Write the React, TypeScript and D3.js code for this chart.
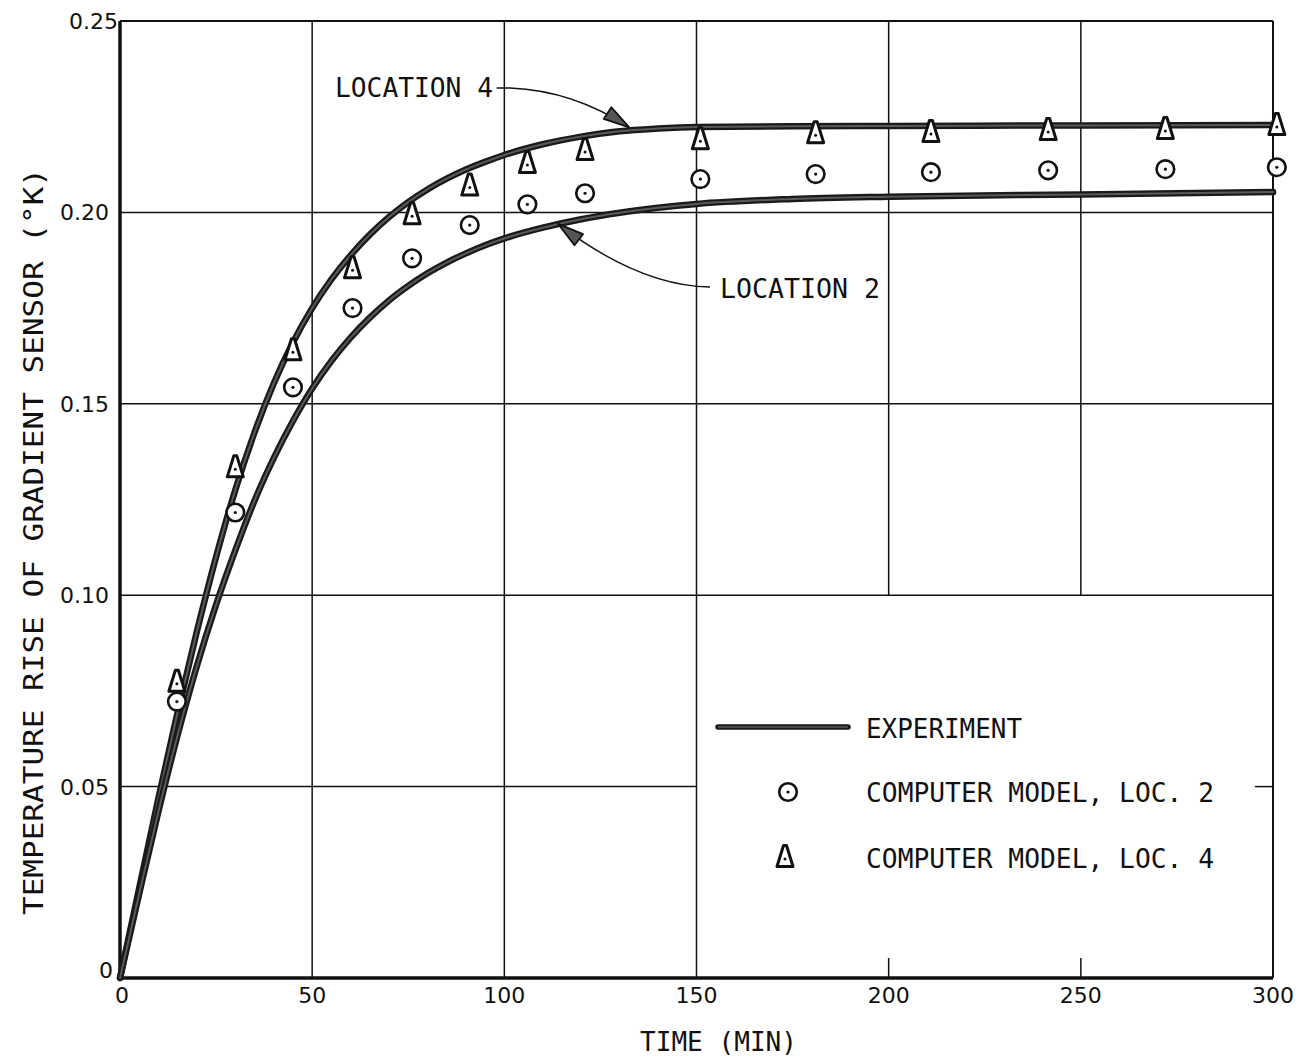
import React from "react";
import * as d3 from "d3";

// ---------- data ----------
const xTicks = [0, 50, 100, 150, 200, 250, 300];
const yTicks = [0, 0.05, 0.1, 0.15, 0.2, 0.25];
const yTickLabels = ["0", "0.05", "0.10", "0.15", "0.20", "0.25"];

// Experiment, location 4 (upper curve)
const expLoc4Time = [0, 5, 10, 15, 20, 25, 30, 35, 40, 45, 50, 55, 60, 65, 70, 75, 80, 85, 90, 95, 100, 110, 120, 130, 140, 150, 175, 200, 250, 300];
const expLoc4Value = [0, 0.0235, 0.047, 0.0695, 0.0905, 0.11, 0.1275, 0.1425, 0.1553, 0.166, 0.175, 0.1825, 0.1888, 0.1942, 0.1988, 0.2027, 0.206, 0.2088, 0.2112, 0.2132, 0.215, 0.2178, 0.2198, 0.2212, 0.2219, 0.2223, 0.2225, 0.2226, 0.2227, 0.2228];

// Experiment, location 2 (lower curve)
const expLoc2Time = [0, 5, 10, 15, 20, 25, 30, 35, 40, 45, 50, 55, 60, 65, 70, 75, 80, 85, 90, 95, 100, 110, 120, 130, 140, 150, 175, 200, 250, 300];
const expLoc2Value = [0, 0.022, 0.0435, 0.0635, 0.0815, 0.0975, 0.1117, 0.1247, 0.1358, 0.1455, 0.154, 0.1612, 0.1673, 0.1725, 0.177, 0.1808, 0.1841, 0.1869, 0.1893, 0.1914, 0.1932, 0.196, 0.1982, 0.1999, 0.2012, 0.2022, 0.2035, 0.2041, 0.2047, 0.2053];

// Computer model points
const modelTime = [14.8, 30, 45, 60.5, 76, 91, 106, 121, 151, 181, 211, 241.5, 272, 301];
const modelLoc2 = [0.0722, 0.1216, 0.1543, 0.175, 0.188, 0.1967, 0.2021, 0.205, 0.2087, 0.21, 0.2105, 0.211, 0.2113, 0.2118];
const modelLoc4 = [0.0774, 0.1334, 0.164, 0.1854, 0.1995, 0.207, 0.2129, 0.2163, 0.2191, 0.2207, 0.221, 0.2215, 0.2218, 0.2228];

const legendLabels = ["EXPERIMENT", "COMPUTER MODEL, LOC. 2", "COMPUTER MODEL, LOC. 4"];

// ---------- layout ----------
const W = 1309;
const H = 1059;
const x = d3.scaleLinear().domain([0, 300]).range([120, 1273]);
const y = d3.scaleLinear().domain([0, 0.25]).range([978, 21]);

const MONO = "'DejaVu Sans Mono', monospace";
const SANS = "'DejaVu Sans', sans-serif";

function lineFor(ts: number[], vs: number[]) {
  const pts: [number, number][] = ts.map((t, i) => [t, vs[i]]);
  return d3
    .line<[number, number]>()
    .x((d) => x(d[0]))
    .y((d) => y(d[1]))
    .curve(d3.curveMonotoneX)(pts) as string;
}

function arrowHead(tipX: number, tipY: number, fromX: number, fromY: number) {
  const ang = Math.atan2(tipY - fromY, tipX - fromX);
  const len = 26;
  const hw = 7;
  const bx = tipX - len * Math.cos(ang);
  const by = tipY - len * Math.sin(ang);
  const px = -Math.sin(ang);
  const py = Math.cos(ang);
  return `M${tipX},${tipY} L${bx + hw * px},${by + hw * py} L${bx - hw * px},${by - hw * py} Z`;
}

function Triangle({ cx, cy }: { cx: number; cy: number }) {
  return (
    <g transform={`translate(${cx},${cy})`}>
      <path d="M-1.5,-11.5 L1.5,-11.5 L8,9.5 L-8,9.5 Z" fill="white" stroke="#111" strokeWidth={3} strokeLinejoin="round" />
      <circle cx={0} cy={2} r={1.5} fill="#111" />
    </g>
  );
}

function Circ({ cx, cy }: { cx: number; cy: number }) {
  return (
    <g transform={`translate(${cx},${cy})`}>
      <circle r={8.8} fill="white" stroke="#111" strokeWidth={2.6} />
      <circle r={1.6} fill="#111" />
    </g>
  );
}

export default function App() {
  const loc4Path = lineFor(expLoc4Time, expLoc4Value);
  const loc2Path = lineFor(expLoc2Time, expLoc2Value);

  // annotation geometry (data space anchors)
  const a4Start = [x(98), y(0.2325)];
  const a4Knee = [x(101.5), y(0.2325)];
  const a4Ctrl = [x(118), y(0.2318)];
  const a4Tip = [x(132.5), y(0.2222)];

  const a2Start = [x(153.5), y(0.1805)];
  const a2Ctrl = [x(135), y(0.1808)];
  const a2Tip = [x(114), y(0.197)];

  const gridStroke = "#111";

  return (
    <svg width={W} height={H} style={{ position: "absolute", left: 0, top: 0, background: "white" }}>
      <rect x={0} y={0} width={W} height={H} fill="white" />

      {/* full vertical grid lines */}
      {[50, 100, 150].map((t) => (
        <line key={"vg" + t} x1={x(t)} x2={x(t)} y1={y(0.25)} y2={y(0)} stroke={gridStroke} strokeWidth={1.5} />
      ))}
      {/* partial vertical grid lines (stop at legend box) */}
      {[200, 250].map((t) => (
        <g key={"vp" + t}>
          <line x1={x(t)} x2={x(t)} y1={y(0.25)} y2={y(0.1)} stroke={gridStroke} strokeWidth={1.5} />
          <line x1={x(t)} x2={x(t)} y1={y(0) - 20} y2={y(0)} stroke={gridStroke} strokeWidth={1.5} />
        </g>
      ))}
      {/* full horizontal grid lines */}
      {[0.1, 0.15, 0.2].map((v) => (
        <line key={"hg" + v} x1={x(0)} x2={x(300)} y1={y(v)} y2={y(v)} stroke={gridStroke} strokeWidth={1.5} />
      ))}
      {/* partial horizontal 0.05 */}
      <line x1={x(0)} x2={x(150)} y1={y(0.05)} y2={y(0.05)} stroke={gridStroke} strokeWidth={1.5} />
      <line x1={x(300) - 18} x2={x(300)} y1={y(0.05)} y2={y(0.05)} stroke={gridStroke} strokeWidth={1.5} />

      {/* frame */}
      <line x1={x(0)} x2={x(300)} y1={y(0.25)} y2={y(0.25)} stroke="#111" strokeWidth={2} />
      <line x1={x(300)} x2={x(300)} y1={y(0.25)} y2={y(0)} stroke="#111" strokeWidth={2} />
      <line x1={x(0)} x2={x(300)} y1={y(0)} y2={y(0)} stroke="#111" strokeWidth={3.5} />
      <line x1={x(0)} x2={x(0)} y1={y(0.25)} y2={y(0)} stroke="#111" strokeWidth={3.5} />

      {/* experiment curves */}
      {[loc4Path, loc2Path].map((d, i) => (
        <g key={"c" + i}>
          <path d={d} fill="none" stroke="#1a1a1a" strokeWidth={6.5} strokeLinecap="round" />
          <path d={d} fill="none" stroke="#5a5a5a" strokeWidth={2} strokeLinecap="round" />
        </g>
      ))}

      {/* model markers */}
      {modelTime.map((t, i) => (
        <Circ key={"m2" + i} cx={x(t)} cy={y(modelLoc2[i])} />
      ))}
      {modelTime.map((t, i) => (
        <Triangle key={"m4" + i} cx={x(t)} cy={y(modelLoc4[i])} />
      ))}

      {/* annotations */}
      <path
        d={`M${a4Start[0]},${a4Start[1]} L${a4Knee[0]},${a4Knee[1]} Q${a4Ctrl[0]},${a4Ctrl[1]} ${a4Tip[0]},${a4Tip[1]}`}
        fill="none"
        stroke="#111"
        strokeWidth={1.4}
      />
      <path d={arrowHead(a4Tip[0], a4Tip[1], a4Ctrl[0], a4Ctrl[1])} fill="#555" stroke="#111" strokeWidth={1.8} strokeLinejoin="round" />
      <text x={335} y={97} fontFamily={MONO} fontSize={27} textLength={158} lengthAdjust="spacingAndGlyphs" fill="#111">
        LOCATION 4
      </text>

      <path
        d={`M${a2Start[0]},${a2Start[1]} Q${a2Ctrl[0]},${a2Ctrl[1]} ${a2Tip[0]},${a2Tip[1]}`}
        fill="none"
        stroke="#111"
        strokeWidth={1.4}
      />
      <path d={arrowHead(a2Tip[0], a2Tip[1], a2Ctrl[0], a2Ctrl[1])} fill="#555" stroke="#111" strokeWidth={1.8} strokeLinejoin="round" />
      <text x={720} y={298} fontFamily={MONO} fontSize={27} textLength={160} lengthAdjust="spacingAndGlyphs" fill="#111">
        LOCATION 2
      </text>

      {/* legend */}
      <g>
        <line x1={718} x2={848} y1={727} y2={727} stroke="#1a1a1a" strokeWidth={5.5} strokeLinecap="round" />
        <line x1={718} x2={848} y1={727} y2={727} stroke="#5a5a5a" strokeWidth={1.5} />
        <Circ cx={788} cy={792} />
        <Triangle cx={785} cy={857} />
        <text x={866} y={738} fontFamily={MONO} fontSize={27} textLength={156} lengthAdjust="spacingAndGlyphs" fill="#111">
          {legendLabels[0]}
        </text>
        <text x={866} y={802} fontFamily={MONO} fontSize={27} textLength={348} lengthAdjust="spacingAndGlyphs" fill="#111">
          {legendLabels[1]}
        </text>
        <text x={866} y={868} fontFamily={MONO} fontSize={27} textLength={348} lengthAdjust="spacingAndGlyphs" fill="#111">
          {legendLabels[2]}
        </text>
      </g>

      {/* x tick labels */}
      {xTicks.map((t) => (
        <text key={"xt" + t} x={x(t) + (t === 0 ? 2 : 0)} y={1003} textAnchor="middle" fontFamily={SANS} fontSize={22} fill="#111">
          {t}
        </text>
      ))}
      {/* y tick labels */}
      {yTicks.map((v, i) => (
        <text
          key={"yt" + v}
          x={v === 0.25 ? 118 : v === 0 ? 113 : 109}
          y={y(v) + (v === 0 ? 0 : 8)}
          textAnchor="end"
          fontFamily={SANS}
          fontSize={22}
          fill="#111"
        >
          {yTickLabels[i]}
        </text>
      ))}

      {/* axis titles */}
      <text x={640} y={1051} fontFamily={MONO} fontSize={27} textLength={157} lengthAdjust="spacingAndGlyphs" fill="#111">
        TIME (MIN)
      </text>
      <text
        transform={`translate(43,${(168 + 915) / 2}) rotate(-90)`}
        x={0}
        y={0}
        textAnchor="middle"
        fontFamily={MONO}
        fontSize={27}
        textLength={747}
        lengthAdjust="spacingAndGlyphs"
        fill="#111"
      >
        TEMPERATURE RISE OF GRADIENT SENSOR (°K)
      </text>
    </svg>
  );
}
